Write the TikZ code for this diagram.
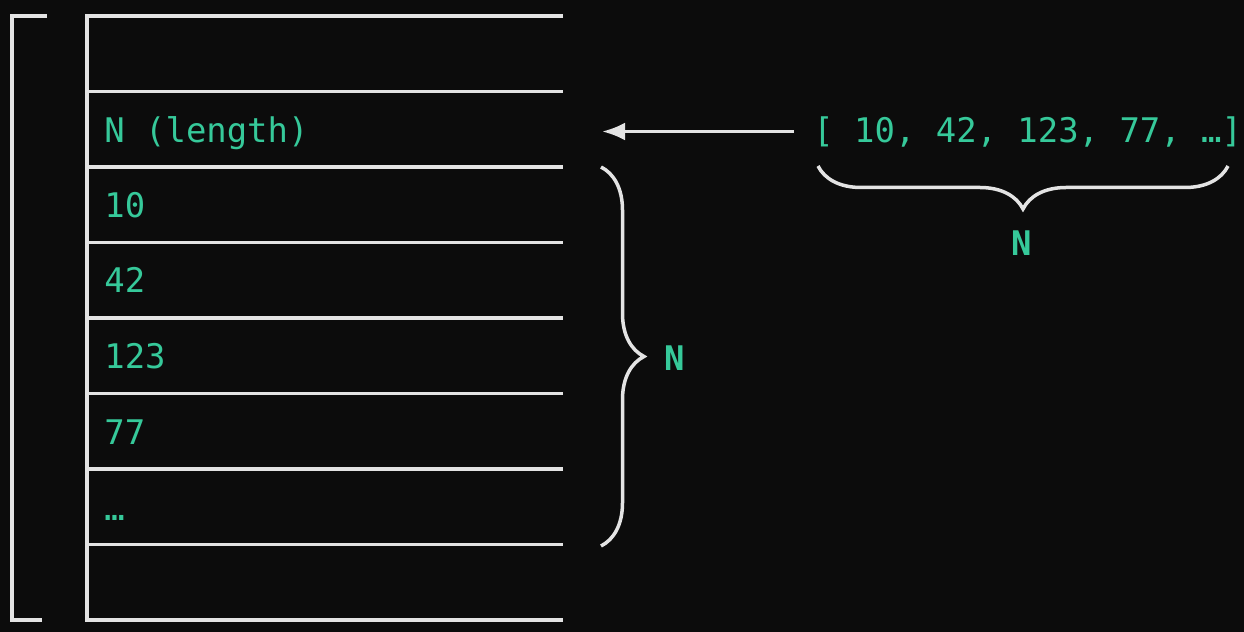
\documentclass[tikz,border=0pt]{standalone}
\usepackage{fontspec}
\setmonofont{DejaVu Sans Mono}
\usetikzlibrary{arrows.meta}
\usetikzlibrary{decorations.pathreplacing}
\usetikzlibrary{positioning}
\definecolor{bgdark}{HTML}{0C0C0C}
\definecolor{rulegray}{HTML}{E4E4E4}
\definecolor{valgreen}{HTML}{36C99A}
\tikzstyle{rule} = [draw=rulegray, line width=0.07cm]
\tikzstyle{cellnode} = [anchor=base west, inner sep=0pt, text=valgreen, font=\ttfamily\fontsize{19.3}{22}\selectfont]
\tikzstyle{countnode} = [inner sep=0pt, text=valgreen, font=\ttfamily\bfseries\fontsize{19.3}{22}\selectfont]
\tikzstyle{bracenode} = [rule, decorate, decoration={brace, amplitude=0.86cm}]

\begin{document}
\begin{tikzpicture}[x=0.02cm, y=-0.02cm]
  \fill[bgdark] (0,0) rectangle (1244,632);

  % outer bracket
  \draw[rule] (47,16) -- (12,16) -- (12,620) -- (42,620);

  % memory table
  \draw[rule] (563,16) -- (87,16) -- (87,620) -- (563,620);
  \foreach \y in {91.5,167,242.5,318,393.5,469,544.5}
    \draw[rule] (87,\y) -- (563,\y);

  \node[cellnode] (len) at (104,142) {N (length)};
  \foreach \val/\yb/\nm in {10/217/v1, 42/292/v2, 123/368/v3, 77/444/v4, …/520/v5}
    \node[cellnode] (\nm) at (104,\yb) {\val};

  % source array
  \node[cellnode] (arr) at (813,142) {[ 10, 42, 123, 77, …]};
  \coordinate (tgt) at (602,130);
  \draw[rule, shorten <=0.38cm, -{Latex[length=0.46cm, width=0.36cm]}] (arr.west) -- (arr.west -| tgt);

  % braces
  \draw[bracenode] (1228,166) -- (818,166);
  \node[countnode] (nbelow) at (1022,243) {N};
  \draw[bracenode] (601,167) -- (601,546);
  \node[countnode] (nside) at (675,358) {N};
\end{tikzpicture}
\end{document}
